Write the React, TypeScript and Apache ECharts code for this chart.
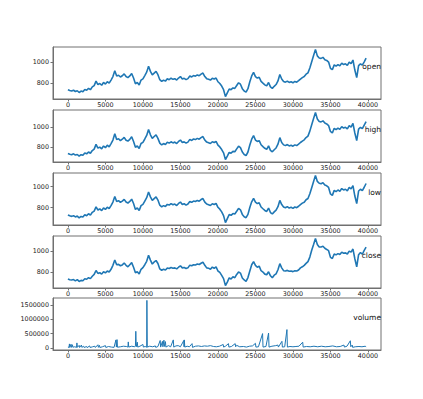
import React, { useEffect, useRef } from "react";
import * as echarts from "echarts";

// sampled row numbers of the time series (every 250th row)
const SAMPLE_STEP = 250;

const openVals = [
  735,728,722,730,718,725,708,722,715,738,
  730,748,735,762,775,818,785,795,778,805,
  790,812,798,828,862,918,868,875,858,870,
  888,862,852,868,892,848,792,805,780,828,
  840,872,905,962,912,878,895,912,880,832,
  815,828,818,840,832,846,835,842,828,848,
  862,838,845,832,842,868,858,872,866,878,
  870,886,896,862,842,835,828,845,838,848,
  812,795,770,735,668,705,742,735,752,748,
  775,802,788,745,722,712,745,812,868,902,
  862,848,855,815,798,782,772,805,762,748,
  768,785,820,882,838,815,808,818,805,812,
  802,815,808,822,838,852,862,885,898,945,
  1005,1065,1125,1062,1042,1038,1048,1025,1018,1002,
  942,928,975,962,978,965,992,978,985,970,
  1002,988,1022,925,852,968,985,972,1005,1040,
];

const highVals = [
  742,735,730,738,726,732,716,730,724,746,
  738,756,744,770,784,830,794,803,787,814,
  798,822,806,838,872,932,878,884,866,880,
  898,870,862,878,904,858,802,814,790,838,
  850,882,916,975,922,888,906,922,888,842,
  824,838,828,850,842,855,844,852,838,858,
  872,848,854,842,852,878,868,882,876,888,
  880,895,906,872,852,845,838,855,848,858,
  822,805,780,748,682,716,752,745,762,758,
  786,812,798,756,732,722,756,824,880,915,
  872,858,866,826,808,792,782,815,772,758,
  778,795,832,895,848,825,818,828,815,822,
  812,825,818,832,848,862,874,896,910,958,
  1020,1080,1140,1075,1052,1048,1058,1036,1028,1012,
  955,940,986,972,988,975,1002,988,995,980,
  1012,998,1034,940,866,978,995,982,1016,1050,
];

const lowVals = [
  728,720,715,722,710,718,700,714,708,730,
  722,740,727,754,766,806,776,786,770,796,
  782,803,790,818,852,905,858,866,850,861,
  878,853,843,858,880,838,782,796,771,818,
  830,862,894,948,902,868,885,902,871,822,
  806,818,809,830,823,837,826,833,819,839,
  852,829,836,823,833,858,849,862,857,868,
  861,876,886,852,833,826,819,836,829,839,
  802,784,758,722,655,694,732,725,742,738,
  764,792,778,734,712,702,734,800,855,888,
  852,838,845,805,788,772,762,795,752,738,
  758,775,808,868,828,805,798,808,795,802,
  792,805,798,812,828,842,851,874,886,932,
  990,1050,1108,1050,1032,1028,1038,1015,1008,992,
  930,916,964,952,968,955,982,968,975,960,
  992,978,1010,910,838,958,975,962,994,1030,
];

const closeVals = [
  733,726,724,728,716,727,710,720,717,736,
  731,746,737,760,777,815,787,793,780,803,
  792,810,800,826,864,915,870,873,860,868,
  886,864,850,870,890,846,794,803,782,826,
  842,870,903,960,914,876,897,910,882,830,
  817,826,820,838,834,844,837,840,830,846,
  860,840,843,834,840,866,860,870,868,876,
  872,884,894,864,840,837,826,847,836,850,
  810,797,768,737,670,703,744,733,754,746,
  777,800,790,743,724,710,747,810,870,900,
  864,846,857,813,800,780,774,803,764,746,
  770,783,822,880,840,813,810,816,807,810,
  804,813,810,820,840,850,864,883,900,943,
  1008,1063,1122,1064,1040,1040,1046,1027,1016,1004,
  940,930,973,964,976,967,990,980,983,972,
  1000,990,1020,927,850,966,987,970,1007,1038,
];

// volume: [row, volume]
const volumePoints: [number, number][] = [
  [0, 30000],[150, 20000],[200, 140000],[260, 15000],[420, 130000],[480, 20000],
  [600, 110000],[660, 25000],[900, 40000],[1150, 20000],[1200, 175000],[1260, 20000],
  [1500, 90000],[1560, 15000],[1800, 100000],[1860, 20000],[2100, 60000],[2160, 15000],
  [2500, 50000],[2560, 10000],[2900, 70000],[2960, 15000],[3300, 40000],[3600, 60000],
  [3660, 15000],[4000, 110000],[4060, 20000],[4200, 90000],[4260, 15000],[4600, 40000],
  [5000, 80000],[5060, 15000],[5400, 50000],[5800, 30000],[6150, 20000],[6400, 280000],
  [6460, 30000],[6550, 290000],[6610, 25000],[7000, 40000],[7400, 60000],[7800, 50000],
  [8000, 30000],[8050, 210000],[8110, 30000],[8500, 60000],[8900, 40000],[9000, 70000],
  [9050, 580000],[9110, 40000],[9250, 200000],[9310, 30000],[9600, 60000],[10000, 120000],
  [10060, 30000],[10300, 50000],[10500, 25000],[10530, 1660000],[10580, 30000],[10900, 60000],
  [11300, 40000],[11650, 70000],[11710, 20000],[12000, 50000],[12300, 260000],[12360, 30000],
  [12600, 230000],[12660, 40000],[12800, 270000],[12860, 50000],[13000, 220000],[13060, 30000],
  [13400, 80000],[13700, 40000],[14050, 280000],[14110, 30000],[14400, 70000],[14700, 80000],
  [15000, 40000],[15450, 260000],[15480, 40000],[15520, 280000],[15580, 30000],[15900, 60000],
  [16200, 40000],[16550, 150000],[16610, 20000],[17000, 60000],[17400, 70000],[17800, 50000],
  [18200, 70000],[18600, 60000],[19000, 80000],[19400, 50000],[19800, 40000],[20200, 60000],
  [20700, 120000],[20760, 30000],[21000, 60000],[21400, 150000],[21460, 30000],[21800, 50000],
  [22300, 150000],[22360, 40000],[22500, 90000],[22900, 40000],[23400, 50000],[23800, 30000],
  [24200, 60000],[24600, 70000],[25000, 160000],[25060, 30000],[25400, 40000],[25950, 500000],
  [26010, 30000],[26400, 50000],[26750, 520000],[26810, 30000],[27200, 60000],[27700, 80000],
  [28000, 100000],[28060, 30000],[28530, 230000],[28590, 30000],[28900, 40000],[29200, 640000],
  [29260, 30000],[29600, 50000],[30000, 40000],[30400, 50000],[30800, 60000],[31300, 200000],
  [31360, 30000],[31800, 50000],[32300, 40000],[32800, 60000],[33300, 40000],[33800, 60000],
  [34300, 40000],[34800, 50000],[35300, 70000],[35800, 40000],[36300, 50000],[36800, 100000],
  [36860, 30000],[37200, 60000],[37650, 250000],[37710, 40000],[37900, 100000],[37960, 20000],
  [38300, 40000],[38800, 50000],[39200, 40000],[39650, 60000],[39750, 30000],
];

const panelNames = ["open", "high", "low", "close", "volume"];
const xTickValues = [0, 5000, 10000, 15000, 20000, 25000, 30000, 35000, 40000];
const priceTickValues = [800, 1000];
const volumeTickValues = [0, 500000, 1000000, 1500000];

export default function App() {
  const ref = useRef<HTMLDivElement>(null);

  useEffect(() => {
    if (!ref.current) return;
    const chart = echarts.init(ref.current, undefined, { renderer: "svg" });

    const priceSeries = [openVals, highVals, lowVals, closeVals].map((vals) =>
      vals.map((v, i) => [i * SAMPLE_STEP, v])
    );
    const allData = [...priceSeries, volumePoints];

    const tops = [47, 110, 173, 236, 298];
    const H = 52;
    const font = "DejaVu Sans";
    const axisColor = "#707070";
    const plain = (v: number) => String(v);
    const pad = (v: { min: number; max: number }, lo: boolean) =>
      lo ? v.min - 0.05 * (v.max - v.min) : v.max + 0.05 * (v.max - v.min);

    const option: any = {
      animation: false,
      backgroundColor: "#fff",
      title: panelNames.map((n, i) => ({
        text: n,
        right: 42,
        top: tops[i] + H / 2 - 10.5,
        padding: 0,
        textStyle: { fontSize: 7.5, fontWeight: "normal", color: "#111", fontFamily: font },
      })),
      grid: tops.map((t) => ({
        left: 53,
        width: 328,
        top: t,
        height: H,
        show: true,
        borderColor: axisColor,
        borderWidth: 1,
        backgroundColor: "transparent",
      })),
      xAxis: tops.map((_, i) => ({
        type: "value",
        gridIndex: i,
        min: (v: any) => pad(v, true),
        max: (v: any) => pad(v, false),
        axisLine: { show: true, onZero: false, lineStyle: { color: axisColor, width: 1 } },
        axisTick: { show: true, length: 2.5, customValues: xTickValues, lineStyle: { color: axisColor } },
        axisLabel: { customValues: xTickValues, formatter: plain, fontSize: 6.4, color: "#222", margin: 3, fontFamily: font },
        splitLine: { show: false },
      })),
      yAxis: tops.map((_, i) => {
        const ticks = i === 4 ? volumeTickValues : priceTickValues;
        return {
          type: "value",
          gridIndex: i,
          scale: true,
          min: (v: any) => pad(v, true),
          max: (v: any) => pad(v, false),
          axisLine: { show: true, onZero: false, lineStyle: { color: axisColor, width: 1 } },
          axisTick: { show: true, length: 2.5, customValues: ticks, lineStyle: { color: axisColor } },
          axisLabel: { customValues: ticks, formatter: plain, fontSize: 6.4, color: "#222", margin: 4, fontFamily: font },
          splitLine: { show: false },
        };
      }),
      series: allData.map((d, i) => ({
        type: "line",
        xAxisIndex: i,
        yAxisIndex: i,
        data: d,
        showSymbol: false,
        symbol: "none",
        lineStyle: { color: "#1f77b4", width: i === 4 ? 1 : 1.6 },
        itemStyle: { color: "#1f77b4" },
      })),
    };

    chart.setOption(option);
    return () => chart.dispose();
  }, []);

  return (
    <div
      ref={ref}
      style={{ position: "fixed", left: 0, top: 0, width: 423, height: 399, background: "#fff" }}
    />
  );
}
